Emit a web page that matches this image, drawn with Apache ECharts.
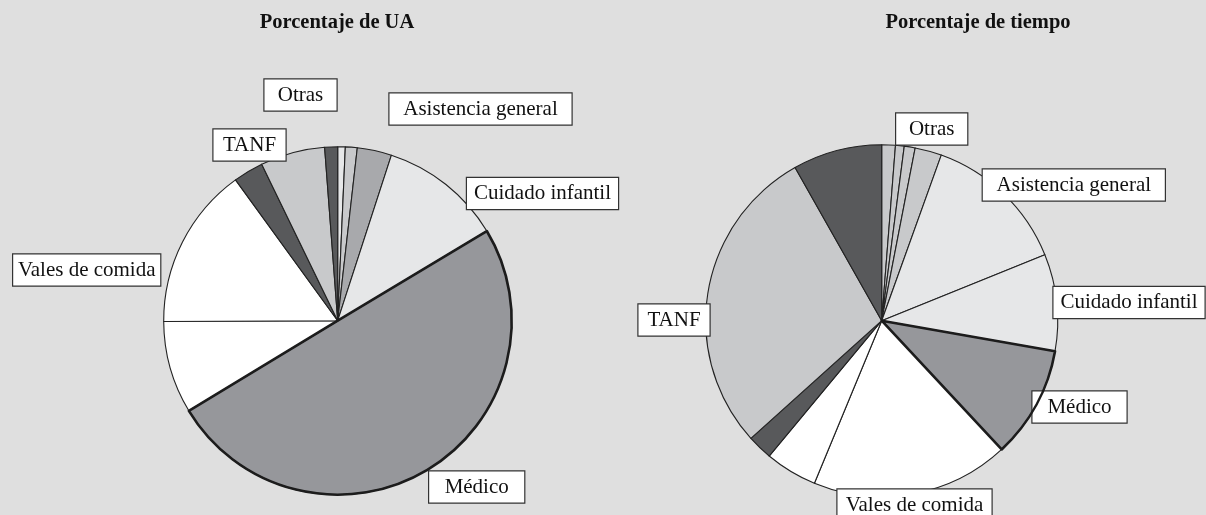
<!DOCTYPE html>
<html>
<head>
<meta charset="utf-8">
<script src="https://cdn.jsdelivr.net/npm/echarts@6/dist/echarts.min.js"></script>
<style>
  html, body { margin: 0; padding: 0; background: #dfdfdf; }
  #chart { width: 1206px; height: 515px; }
</style>
</head>
<body>
<div id="chart"></div>
<script>
// Share of assistance units (UA) by programme, clockwise from 12 o'clock
const uaNames = ['', '', 'Asistencia general', 'Cuidado infantil', 'Médico', '', 'Vales de comida', '', 'TANF', 'Otras'];
const uaValues = [0.7, 1.1, 3.2, 11.4, 50.0, 8.6, 15.1, 2.8, 6.0, 1.2];

// Share of working time by programme, clockwise from 12 o'clock
const tiempoNames = ['Otras', '', '', '', 'Asistencia general', 'Cuidado infantil', 'Médico', 'Vales de comida', '', '', 'TANF', ''];
const tiempoValues = [1.25, 0.8, 1.0, 2.45, 13.4, 8.9, 10.3, 18.2, 4.8, 2.3, 28.5, 8.2];

const titles = ['Porcentaje de UA', 'Porcentaje de tiempo'];

// Slice fills
const DARK = '#58595b', MID = '#96979b', MIDL = '#a8a9ac', LIGHT = '#c8c9cb', PALE = '#e6e7e8', WHITE = '#ffffff';
const uaFills = [PALE, LIGHT, MIDL, PALE, MID, WHITE, WHITE, DARK, LIGHT, DARK];
const tiempoFills = [LIGHT, LIGHT, LIGHT, LIGHT, PALE, PALE, MID, WHITE, WHITE, DARK, LIGHT, DARK];

// Label box placement: [centre x, centre y, box width]
const uaBoxes = {
  'Otras': [300.5, 95, 74],
  'Asistencia general': [480.5, 109, 184],
  'TANF': [249.5, 145, 74],
  'Cuidado infantil': [542.5, 193.5, 153],
  'Vales de comida': [86.7, 270, 149],
  'Médico': [476.7, 487, 97]
};
const tiempoBoxes = {
  'Otras': [931.7, 129, 73],
  'Asistencia general': [1073.8, 185, 184],
  'Cuidado infantil': [1129, 302.5, 153],
  'TANF': [674, 320, 73],
  'Médico': [1079.5, 407, 96],
  'Vales de comida': [914.5, 505, 156]
};

const FONT = '"Liberation Serif", "Times New Roman", serif';

function buildData(names, values, fills, boxes) {
  return values.map((v, i) => {
    const name = names[i];
    const item = { name: name, value: v, itemStyle: { color: fills[i] } };
    if (name && boxes[name]) {
      item.label = { show: true, width: boxes[name][2] - 2, align: 'center' };
    } else {
      item.label = { show: false };
    }
    return item;
  });
}

// Heavier outline drawn over the "Médico" slice
function outlineData(names, values) {
  return values.map((v, i) => ({
    name: names[i], value: v,
    itemStyle: names[i] === 'Médico'
      ? { color: 'rgba(0,0,0,0)', borderColor: '#1c1c1c', borderWidth: 2.6 }
      : { color: 'rgba(0,0,0,0)', borderWidth: 0 }
  }));
}

function pieSeries(names, values, fills, boxes, center, radius) {
  return [{
    type: 'pie',
    center: center,
    radius: radius,
    startAngle: 90,
    clockwise: true,
    avoidLabelOverlap: false,
    silent: true,
    data: buildData(names, values, fills, boxes),
    itemStyle: { borderColor: '#222', borderWidth: 1.1 },
    label: {
      position: 'outside',
      formatter: '{b}',
      fontFamily: FONT,
      fontSize: 21,
      lineHeight: 21,
      color: '#111',
      backgroundColor: '#ffffff',
      borderColor: '#333',
      borderWidth: 1.2,
      padding: [6, 0, 4, 0]
    },
    labelLine: { show: false },
    labelLayout: function (p) {
      const b = boxes[names[p.dataIndex]];
      if (!b) return {};
      return { x: b[0], y: b[1], align: 'center', verticalAlign: 'middle' };
    },
    emphasis: { disabled: true }
  }, {
    type: 'pie',
    center: center,
    radius: radius,
    startAngle: 90,
    clockwise: true,
    silent: true,
    z: 3,
    data: outlineData(names, values),
    label: { show: false },
    labelLine: { show: false },
    emphasis: { disabled: true }
  }];
}

const chart = echarts.init(document.getElementById('chart'), null, { renderer: 'canvas' });
chart.setOption({
  animation: false,
  backgroundColor: '#dfdfdf',
  title: [
    { text: titles[0], left: 337, top: 12, textAlign: 'center', padding: 0,
      textStyle: { fontFamily: FONT, fontWeight: 'bold', fontSize: 20.5, color: '#111' } },
    { text: titles[1], left: 978, top: 12, textAlign: 'center', padding: 0,
      textStyle: { fontFamily: FONT, fontWeight: 'bold', fontSize: 20.5, color: '#111' } }
  ],
  series: [
    ...pieSeries(uaNames, uaValues, uaFills, uaBoxes, [337.7, 320.7], 174),
    ...pieSeries(tiempoNames, tiempoValues, tiempoFills, tiempoBoxes, [881.7, 320.7], 176)
  ]
});
</script>
</body>
</html>
